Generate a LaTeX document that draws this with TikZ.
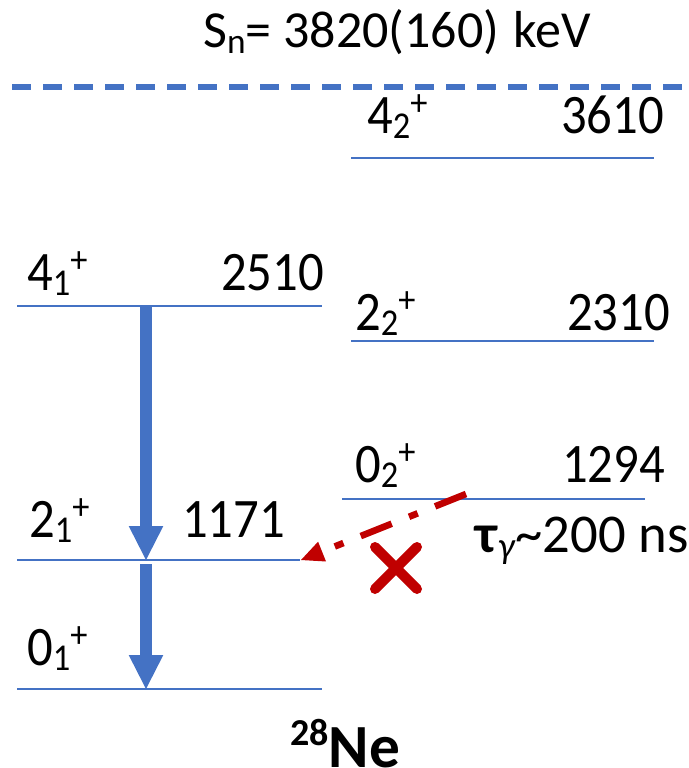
\documentclass[tikz,border=0pt]{standalone}
\usepackage{fontspec}
\setmainfont{Carlito}
\usetikzlibrary{arrows.meta}
\definecolor{lvblue}{HTML}{4472C4}
\definecolor{xred}{HTML}{C00000}
\newcommand{\lvl}[3]{#1\raisebox{-0.1em}{\scalebox{0.68}{#2}}\raisebox{0.32em}{\scalebox{0.68}{#3}}}
\newcommand{\tall}[1]{\scalebox{1}[1.1]{#1}}
\begin{document}
\begin{tikzpicture}[x=0.75pt,y=-0.75pt,
  level/.style={draw=lvblue, line width=1.5pt},
  snline/.style={draw=lvblue, line width=4.5pt, dash pattern=on 14.25pt off 9pt},
  lab/.style={inner sep=0pt, font=\fontsize{38}{40}\selectfont},
  gamarrow/.style={draw=lvblue, line width=9pt, -{Triangle[length=25.5pt,width=26pt,line width=0pt]}},
  forbid/.style={draw=xred, line width=5pt, dash pattern=on 25pt off 14pt on 7pt off 14pt, -{Triangle[length=17pt,width=16pt,line width=0pt]}},
  xmark/.style={draw=xred, line width=7.5pt, line cap=round}]
\useasboundingbox (0,0) rectangle (689,768);

% neutron separation energy
\node[inner sep=0pt, anchor=base west, font=\fontsize{39}{42}\selectfont] (sn) at (203,47) {S\raisebox{-0.12em}{\scalebox{0.68}{n}}= 3820(160) \hspace{0.05em}keV};
\coordinate (sna) at (12,87);
\coordinate (snb) at (700,87);
\draw[snline] (sna) -- (snb);

% levels (left)
\coordinate (l41a) at (17,306); \coordinate (l41b) at (322,306);
\coordinate (l21a) at (17,560); \coordinate (l21b) at (300,560);
\coordinate (l01a) at (17,689); \coordinate (l01b) at (322,689);
% levels (right)
\coordinate (l42a) at (351,158); \coordinate (l42b) at (654,158);
\coordinate (l22a) at (351,341); \coordinate (l22b) at (654,341);
\coordinate (l02a) at (342,499); \coordinate (l02b) at (645,499);
\draw[level] (l41a) -- (l41b);
\draw[level] (l21a) -- (l21b);
\draw[level] (l01a) -- (l01b);
\draw[level] (l42a) -- (l42b);
\draw[level] (l22a) -- (l22b);
\draw[level] (l02a) -- (l02b);

% labels
\node[lab, anchor=base west] (s41) at (27,290) {\tall{\lvl{4}{1}{+}}};
\node[lab, anchor=base east] (e41) at (324,290) {\tall{2510}};
\node[lab, anchor=base west] (s21) at (29,537) {\tall{\lvl{2}{1}{+}}};
\node[lab, anchor=base east] (e21) at (285,537) {\tall{1171}};
\node[lab, anchor=base west] (s01) at (27,665) {\tall{\lvl{0}{1}{+}}};
\node[lab, anchor=base west] (s42) at (367,133) {\tall{\lvl{4}{2}{+}}};
\node[lab, anchor=base east] (e42) at (664,133) {\tall{3610}};
\node[lab, anchor=base west] (s22) at (355,330) {\tall{\lvl{2}{2}{+}}};
\node[lab, anchor=base east] (e22) at (670,330) {\tall{2310}};
\node[lab, anchor=base west] (s02) at (355,482) {\tall{\lvl{0}{2}{+}}};
\node[lab, anchor=base east] (e02) at (665,482) {\tall{1294}};

% gamma transitions
\coordinate (g1a) at (146,307);
\coordinate (g1b) at (146,560);
\coordinate (g2a) at (146,564);
\coordinate (g2b) at (146,689);
\draw[gamarrow] (g1a) -- (g1b);
\draw[gamarrow] (g2a) -- (g2b);

% forbidden transition
\coordinate (r0) at (466,494);
\coordinate (r1) at (301,560);
\draw[forbid] (r0) -- (r1);
\coordinate (x1) at (375,547); \coordinate (x2) at (417,589);
\coordinate (x3) at (375,589); \coordinate (x4) at (417,547);
\draw[xmark] (x1) -- (x2);
\draw[xmark] (x3) -- (x4);

\node[inner sep=0pt, anchor=base west, font=\fontsize{41}{44}\selectfont] (tau) at (475,552) {\textbf{τ}\raisebox{-0.12em}{\scalebox{0.68}{\textit{γ}}}\textasciitilde 200 ns};

% nucleus
\node[inner sep=0pt, anchor=base west, font=\fontsize{46}{48}\selectfont\bfseries] (ne) at (290,767) {\raisebox{0.35em}{\scalebox{0.62}{28}}Ne};
\end{tikzpicture}
\end{document}
